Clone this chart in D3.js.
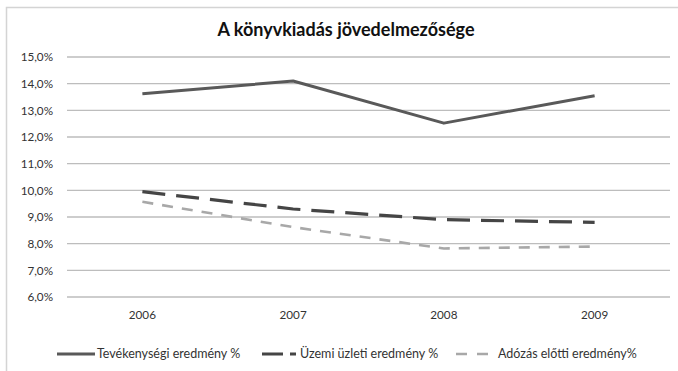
<!DOCTYPE html>
<html><head><meta charset="utf-8">
<script src="https://cdn.jsdelivr.net/npm/d3@7"></script>
<style>html,body{margin:0;padding:0;background:#fff;}svg{display:block;}</style>
</head><body>
<svg id="c" width="678" height="371"></svg>
<script>
const title = "A könyvkiadás jövedelmezősége";
const categories = ["2006", "2007", "2008", "2009"];
const seriesNames = ["Tevékenységi eredmény %", "Üzemi üzleti eredmény %", "Adózás előtti eredmény%"];
const tevekenysegi = [13.62, 14.1, 12.52, 13.55];
const uzemi = [9.95, 9.3, 8.9, 8.8];
const adozas = [9.57, 8.62, 7.82, 7.89];
const yTicks = [6, 7, 8, 9, 10, 11, 12, 13, 14, 15];

const seriesStyles = [
  {color: "#595959", width: 3, dash: null},
  {color: "#454545", width: 3.2, dash: "23,11"},
  {color: "#a8a8a8", width: 2.6, dash: "11,9"}
];
const seriesData = [tevekenysegi, uzemi, adozas];

const svg = d3.select("#c");
const font = "Lato, 'Open Sans', sans-serif";

// outer border (top and left visible)
svg.append("path").attr("d", "M6.5,371 V7.5 H678").attr("fill", "none")
  .attr("stroke", "#d4d4d4").attr("stroke-width", 1.5);

const x = d3.scaleBand().domain(categories).range([67, 670]);
const y = d3.scaleLinear().domain([6, 15]).range([297, 57]);

// grid
svg.append("g").selectAll("line").data(yTicks).join("line")
  .attr("x1", 67).attr("x2", 670)
  .attr("y1", d => y(d)).attr("y2", d => y(d))
  .attr("stroke", "#bdbdbd").attr("stroke-width", 1.3);

// y axis labels
const fmt = d => d.toFixed(1).replace(".", ",") + "%";
const yAxis = d3.axisLeft(y).tickValues(yTicks).tickFormat(fmt).tickSize(0).tickPadding(14);
const gy = svg.append("g").attr("transform", "translate(67,0)").call(yAxis);
gy.select(".domain").remove();
gy.selectAll("text").attr("font-family", font).attr("font-size", 11.7).attr("fill", "#333");

// x axis labels
const xAxis = d3.axisBottom(x).tickSize(0).tickPadding(14);
const gx = svg.append("g").attr("transform", "translate(0,297)").call(xAxis);
gx.select(".domain").remove();
gx.selectAll("text").attr("font-family", font).attr("font-size", 11.7).attr("fill", "#333");

// lines
const line = d3.line().x((d, i) => x(categories[i]) + x.bandwidth() / 2).y(d => y(d));
seriesData.forEach((vals, k) => {
  const s = seriesStyles[k];
  svg.append("path").datum(vals).attr("d", line).attr("fill", "none")
    .attr("stroke", s.color).attr("stroke-width", s.width)
    .attr("stroke-dasharray", s.dash).attr("stroke-linejoin", "round");
});

// title
svg.append("text").attr("x", 346).attr("y", 36).attr("text-anchor", "middle")
  .attr("font-family", font).attr("font-weight", "bold").attr("font-size", 18)
  .attr("fill", "#111").text(title);

// legend
const legendItems = [
  {x1: 57, x2: 95, tx: 97},
  {x1: 262, x2: 296, tx: 300},
  {x1: 456, x2: 492, tx: 498}
];
const ly = 354;
legendItems.forEach((li, k) => {
  const s = seriesStyles[k];
  svg.append("line").attr("x1", li.x1).attr("x2", li.x2).attr("y1", ly).attr("y2", ly)
    .attr("stroke", s.color).attr("stroke-width", s.width)
    .attr("stroke-dasharray", k === 1 ? "21,7" : (k === 2 ? "11,10" : null));
  svg.append("text").attr("x", li.tx).attr("y", ly).attr("dy", "0.35em")
    .attr("font-family", font).attr("font-size", 12.5).attr("fill", "#333")
    .text(seriesNames[k]);
});
</script>
</body></html>
